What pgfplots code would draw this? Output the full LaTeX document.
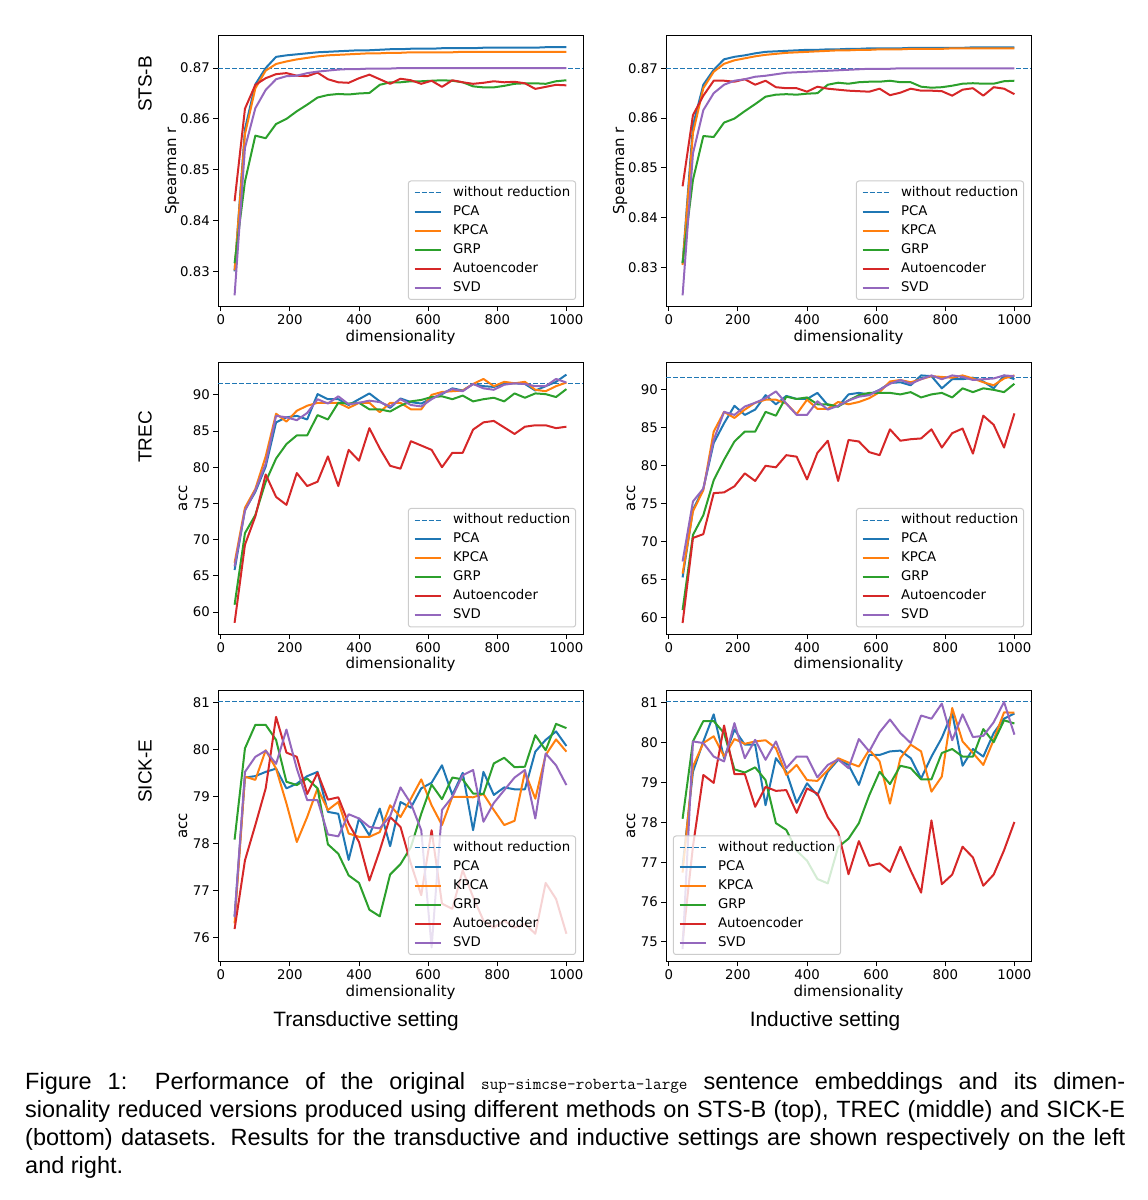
\documentclass[border=0pt]{standalone}
\usepackage{pgfplots}
\pgfplotsset{compat=1.18}
\usepackage{pgfplotstable}
\usepackage{fontspec}
\setmainfont{DejaVu Sans}
\newfontfamily\capfont{Liberation Sans}
\definecolor{c0}{HTML}{1F77B4}
\definecolor{c1}{HTML}{FF7F0E}
\definecolor{c2}{HTML}{2CA02C}
\definecolor{c3}{HTML}{D62728}
\definecolor{c4}{HTML}{9467BD}

\pgfplotstableread{
x pca kpca grp ae svd
40 0.8300 0.8302 0.8316 0.8438 0.8253
70 0.8580 0.8570 0.8477 0.8620 0.8543
100 0.8668 0.8660 0.8567 0.8667 0.8621
130 0.8700 0.8695 0.8562 0.8680 0.8657
160 0.8722 0.8708 0.8590 0.8688 0.8678
190 0.8725 0.8713 0.8600 0.8690 0.8684
220 0.8727 0.8717 0.8615 0.8685 0.8685
250 0.8729 0.8720 0.8628 0.8684 0.8690
280 0.8731 0.8723 0.8642 0.8691 0.8693
310 0.8732 0.8725 0.8647 0.8678 0.8695
340 0.8733 0.8726 0.8649 0.8672 0.8697
370 0.8734 0.8727 0.8648 0.8671 0.8698
400 0.8735 0.8728 0.8650 0.8680 0.8698
430 0.8735 0.8729 0.8651 0.8687 0.8699
460 0.8736 0.8729 0.8667 0.8678 0.8699
490 0.8737 0.8730 0.8672 0.8669 0.8699
520 0.8737 0.8730 0.8672 0.8679 0.8700
550 0.8738 0.8731 0.8674 0.8676 0.8700
580 0.8738 0.8731 0.8674 0.8669 0.8700
610 0.8738 0.8731 0.8675 0.8675 0.8700
640 0.8739 0.8731 0.8676 0.8663 0.8700
670 0.8739 0.8731 0.8675 0.8676 0.8700
700 0.8739 0.8732 0.8672 0.8672 0.8700
730 0.8739 0.8732 0.8664 0.8669 0.8700
760 0.8740 0.8732 0.8662 0.8671 0.8700
790 0.8740 0.8732 0.8662 0.8674 0.8700
820 0.8740 0.8732 0.8665 0.8672 0.8700
850 0.8740 0.8732 0.8669 0.8673 0.8700
880 0.8740 0.8732 0.8670 0.8670 0.8700
910 0.8740 0.8732 0.8670 0.8659 0.8700
940 0.8741 0.8732 0.8669 0.8663 0.8700
970 0.8741 0.8732 0.8674 0.8667 0.8700
1000 0.8741 0.8732 0.8676 0.8666 0.8700
}\tl

\pgfplotstableread{
x pca kpca grp ae svd
40 0.8308 0.8305 0.8309 0.8463 0.8244
70 0.8585 0.8570 0.8476 0.8606 0.8529
100 0.8667 0.8660 0.8564 0.8645 0.8616
130 0.8697 0.8693 0.8562 0.8675 0.8650
160 0.8718 0.8709 0.8591 0.8675 0.8667
190 0.8723 0.8716 0.8599 0.8673 0.8675
220 0.8726 0.8720 0.8614 0.8678 0.8678
250 0.8730 0.8724 0.8628 0.8667 0.8683
280 0.8733 0.8727 0.8643 0.8675 0.8685
310 0.8734 0.8729 0.8647 0.8662 0.8688
340 0.8735 0.8731 0.8648 0.8660 0.8691
370 0.8736 0.8732 0.8647 0.8660 0.8692
400 0.8737 0.8733 0.8649 0.8653 0.8693
430 0.8737 0.8734 0.8650 0.8663 0.8694
460 0.8738 0.8735 0.8667 0.8659 0.8695
490 0.8738 0.8736 0.8671 0.8657 0.8696
520 0.8739 0.8736 0.8669 0.8655 0.8697
550 0.8739 0.8737 0.8672 0.8654 0.8698
580 0.8740 0.8737 0.8673 0.8653 0.8699
610 0.8740 0.8738 0.8673 0.8659 0.8699
640 0.8740 0.8738 0.8675 0.8646 0.8699
670 0.8740 0.8738 0.8672 0.8651 0.8700
700 0.8741 0.8739 0.8672 0.8659 0.8700
730 0.8741 0.8739 0.8663 0.8655 0.8700
760 0.8741 0.8739 0.8661 0.8655 0.8700
790 0.8741 0.8739 0.8662 0.8654 0.8700
820 0.8741 0.8740 0.8665 0.8645 0.8700
850 0.8741 0.8740 0.8669 0.8657 0.8700
880 0.8742 0.8740 0.8670 0.8660 0.8700
910 0.8742 0.8740 0.8669 0.8645 0.8700
940 0.8742 0.8740 0.8669 0.8662 0.8700
970 0.8742 0.8740 0.8674 0.8659 0.8700
1000 0.8742 0.8740 0.8675 0.8648 0.8700
}\tr

\pgfplotstableread{
x pca kpca grp ae svd
40 65.8 66.8 61.0 58.5 66.3
70 74.1 74.4 70.9 69.3 74.0
100 76.6 77.0 73.4 73.2 76.8
130 80.1 81.5 78.0 79.0 80.5
160 86.2 87.4 81.2 75.9 87.1
190 86.9 86.3 83.2 74.8 86.9
220 87.1 87.8 84.4 79.2 86.5
250 86.6 88.5 84.4 77.4 87.5
280 90.1 88.9 87.2 78.0 89.4
310 89.4 88.9 86.6 81.5 88.8
340 89.4 88.9 88.9 77.4 89.8
370 88.6 88.2 88.8 82.4 88.7
400 89.4 88.9 88.9 80.9 88.9
430 90.2 88.9 88.0 85.4 89.2
460 89.1 87.6 88.0 82.6 89.0
490 88.2 88.9 87.7 80.2 88.4
520 89.5 88.9 88.5 79.8 89.4
550 89.0 88.0 89.1 83.6 88.6
580 88.8 88.0 89.3 83.0 88.4
610 89.5 90.0 89.7 82.4 89.4
640 90.1 90.4 89.8 80.0 90.2
670 90.9 90.5 89.4 82.0 90.8
700 90.6 90.6 89.9 82.0 90.5
730 91.5 91.5 89.1 85.2 91.5
760 91.2 92.2 89.4 86.2 90.9
790 91.1 91.2 89.6 86.4 90.7
820 91.5 91.8 89.1 85.5 91.4
850 91.6 91.6 90.2 84.6 91.6
880 91.5 91.8 89.6 85.6 91.5
910 90.6 90.7 90.2 85.8 91.2
940 91.2 90.5 90.1 85.8 91.2
970 91.8 91.2 89.7 85.4 92.2
1000 92.8 91.7 90.8 85.6 91.7
}\ml

\pgfplotstableread{
x pca kpca grp ae svd
40 65.3 65.8 61.0 59.3 67.4
70 74.2 74.0 70.9 70.5 75.3
100 77.0 76.8 73.5 71.0 77.0
130 83.0 84.5 78.1 76.4 83.4
160 85.6 87.1 80.8 76.5 87.1
190 87.9 86.3 83.2 77.3 86.7
220 86.7 87.4 84.5 79.0 87.8
250 87.4 88.3 84.5 78.0 88.3
280 89.3 88.7 87.1 80.0 88.9
310 88.1 88.7 86.6 79.8 89.8
340 89.2 88.2 89.1 81.4 88.2
370 88.8 86.8 88.8 81.2 86.7
400 88.8 88.7 89.0 78.2 86.7
430 89.6 87.5 88.1 81.7 88.5
460 88.0 87.5 88.1 83.3 87.4
490 87.8 88.4 87.8 78.0 87.9
520 89.4 88.1 88.6 83.4 88.6
550 89.6 88.4 89.3 83.2 89.1
580 89.4 88.9 89.6 81.8 89.3
610 90.0 89.7 89.6 81.4 90.0
640 90.9 91.1 89.6 84.8 90.8
670 91.0 91.3 89.4 83.3 91.3
700 90.6 91.0 89.7 83.5 90.8
730 91.9 91.4 89.0 83.6 91.4
760 91.8 91.8 89.4 84.8 91.9
790 90.2 91.7 89.6 82.4 91.4
820 91.4 91.6 89.0 84.3 91.9
850 91.4 91.9 90.2 84.9 91.7
880 91.6 91.5 89.7 81.6 91.3
910 91.1 91.0 90.2 86.6 91.4
940 90.2 90.6 90.0 85.4 91.5
970 91.9 91.5 89.7 82.4 91.9
1000 91.4 91.9 90.8 86.9 91.8
}\mr

\pgfplotstableread{
x pca kpca grp ae svd
40 76.45 76.30 78.08 76.18 76.43
70 79.40 79.42 80.02 77.64 79.52
100 79.43 79.35 80.52 78.39 79.84
130 79.52 79.98 80.52 79.17 79.97
160 79.59 79.59 80.20 80.69 79.69
190 79.17 78.85 79.31 79.93 80.42
220 79.27 78.03 79.24 79.84 79.59
250 79.43 78.56 79.38 79.05 78.92
280 79.52 79.17 79.17 79.50 78.92
310 78.67 78.71 77.98 78.93 78.19
340 78.63 78.88 77.78 78.98 78.15
370 77.65 78.21 77.32 78.42 78.62
400 78.53 78.14 77.16 78.03 78.53
430 78.17 78.14 76.59 77.21 78.35
460 78.74 78.24 76.45 77.85 78.32
490 77.94 78.81 77.34 78.56 78.58
520 78.88 78.56 77.56 78.35 79.19
550 78.76 78.95 77.92 77.57 78.85
580 79.17 79.36 78.63 76.90 78.28
610 79.29 78.81 79.25 78.28 75.79
640 79.66 78.39 78.94 76.72 78.71
670 79.03 78.99 79.40 76.61 78.99
700 79.50 78.99 79.36 77.43 79.45
730 78.28 78.98 79.06 76.86 79.56
760 79.52 79.05 79.05 76.36 78.46
790 79.03 78.71 79.70 76.21 78.86
820 79.19 78.39 79.82 76.36 79.13
850 79.15 78.48 79.62 76.21 79.40
880 79.15 79.52 79.63 76.29 79.56
910 79.95 78.95 80.30 76.08 78.53
940 80.20 79.88 79.98 77.16 79.91
970 80.38 80.21 80.54 76.82 79.66
1000 80.07 79.95 80.45 76.08 79.24
}\bl

\pgfplotstableread{
x pca kpca grp ae svd
40 76.90 76.74 78.09 75.02 74.82
70 79.27 79.40 80.03 77.40 80.03
100 80.03 79.99 80.54 79.19 79.99
130 80.71 80.16 80.54 78.99 79.65
160 79.61 79.65 80.24 80.43 79.53
190 80.33 80.09 79.33 79.21 80.49
220 79.95 79.97 79.25 79.21 79.61
250 79.95 80.03 79.38 78.39 80.07
280 78.43 80.06 79.06 78.89 79.57
310 79.61 79.86 77.98 78.79 80.03
340 79.27 79.19 77.81 78.81 79.36
370 78.49 79.44 77.29 78.24 79.65
400 78.98 79.06 77.04 78.85 79.65
430 78.68 79.04 76.58 78.72 79.13
460 79.27 79.31 76.47 78.13 79.44
490 79.57 79.61 77.38 77.76 79.58
520 79.44 79.50 77.59 76.70 79.36
550 78.94 79.40 77.98 77.53 80.09
580 79.69 79.82 78.68 76.91 79.78
610 79.69 79.53 79.27 76.97 80.26
640 79.78 78.47 78.96 76.76 80.58
670 79.80 79.61 79.42 77.39 80.24
700 79.61 79.95 79.36 76.79 79.99
730 79.10 79.78 79.08 76.24 80.68
760 79.65 78.77 79.08 78.05 80.60
790 80.12 79.15 79.74 76.45 80.98
820 80.75 80.87 79.84 76.69 80.06
850 79.42 80.03 79.65 77.39 80.71
880 79.84 79.74 79.65 77.12 80.14
910 79.65 79.44 80.34 76.41 80.17
940 80.24 80.07 80.01 76.69 80.51
970 80.60 80.76 80.56 77.30 81.02
1000 80.73 80.75 80.48 78.01 80.20
}\br

\pgfplotsset{
  panel/.style={
    scale only axis, width=365pt, height=271.5pt,
    xmin=-8, xmax=1048,
    xtick={0,200,400,600,800,1000},
    xticklabels={0,200,400,600,800,1000},
    tick align=outside, tick pos=left,
    major tick length=4.7pt,
    every tick/.append style={black, line width=1pt},
    axis line style={black, line width=1pt},
    tick label style={font=\fontsize{13.3}{16}\selectfont},
    /pgf/number format/assume math mode=true,
    label style={font=\fontsize{15}{18}\selectfont},
    xlabel={dimensionality},
    xlabel style={at={(axis description cs:0.5,-0.113)}, anchor=center},
    every axis plot/.append style={line width=2pt, line join=round},
    legend entries={without reduction,PCA,KPCA,GRP,Autoencoder,SVD},
    legend cell align=left,
    legend image code/.code={\draw[#1] (0pt,0pt) -- (26.7pt,0pt);},
    legend style={font=\fontsize{13.3}{16}\selectfont,
      draw=black!20, line width=1pt, fill=white, fill opacity=0.8, text opacity=1, draw opacity=1,
      rounded corners=2.5pt, inner xsep=5.3pt, inner ysep=5.5pt,
      row sep=6.5pt, column sep=10.6pt,
      nodes={inner xsep=0pt, inner ysep=0pt, text height=9.7pt, text depth=2.8pt}},
  },
  brlegend/.style={legend style={at={(0.981,0.024)}, anchor=south east}},
  bllegend/.style={legend style={at={(0.019,0.024)}, anchor=south west}},
  stsb/.style={ytick={0.83,0.84,0.85,0.86,0.87}, yticklabels={0.83,0.84,0.85,0.86,0.87},
    ylabel={Spearman r}, ylabel style={at={(axis description cs:-0.126,0.5)}, anchor=center}},
  acc/.style={ylabel={acc}, ylabel style={at={(axis description cs:-0.096,0.5)}, anchor=center}},
  refline/.style={c0, line width=1.1pt, dash pattern=on 4.9pt off 2.1pt},
}

\newcommand{\series}[1]{%
  \addplot[c0] table[x=x,y=pca]{#1};
  \addplot[c1] table[x=x,y=kpca]{#1};
  \addplot[c2] table[x=x,y=grp]{#1};
  \addplot[c3] table[x=x,y=ae]{#1};
  \addplot[c4] table[x=x,y=svd]{#1};
}

\begin{document}
\begin{tikzpicture}
\path[use as bounding box] (0pt,0pt) rectangle (1148pt,-1200pt);

% STS-B
\begin{axis}[panel, stsb, brlegend, at={(218pt,-35pt)}, anchor=north west, ymin=0.8231, ymax=0.8765]
\addplot[refline] coordinates {(-8,0.87) (1048,0.87)};
\series{\tl}
\end{axis}
\begin{axis}[panel, stsb, brlegend, at={(666pt,-35pt)}, anchor=north west, ymin=0.82217, ymax=0.87668]
\addplot[refline] coordinates {(-8,0.87) (1048,0.87)};
\series{\tr}
\end{axis}

% TREC
\begin{axis}[panel, acc, brlegend, at={(218pt,-362.5pt)}, anchor=north west, ymin=56.96, ymax=94.47,
  ytick={60,65,70,75,80,85,90}, yticklabels={60,65,70,75,80,85,90}]
\addplot[refline] coordinates {(-8,91.62) (1048,91.62)};
\series{\ml}
\end{axis}
\begin{axis}[panel, acc, brlegend, at={(666pt,-362.5pt)}, anchor=north west, ymin=57.85, ymax=93.6,
  ytick={60,65,70,75,80,85,90}, yticklabels={60,65,70,75,80,85,90}]
\addplot[refline] coordinates {(-8,91.62) (1048,91.62)};
\series{\mr}
\end{axis}

% SICK-E
\begin{axis}[panel, acc, brlegend, at={(218pt,-690pt)}, anchor=north west, ymin=75.49, ymax=81.26,
  ytick={76,77,78,79,80,81}, yticklabels={76,77,78,79,80,81}]
\addplot[refline] coordinates {(-8,81.02) (1048,81.02)};
\series{\bl}
\end{axis}
\begin{axis}[panel, acc, bllegend, at={(666pt,-690pt)}, anchor=north west, ymin=74.51, ymax=81.32,
  ytick={75,76,77,78,79,80,81}, yticklabels={75,76,77,78,79,80,81}]
\addplot[refline] coordinates {(-8,81.03) (1048,81.03)};
\series{\br}
\end{axis}

% row labels
\node[rotate=90, font=\capfont\fontsize{19}{22}\selectfont] at (145pt,-84pt) {STS-B};
\node[rotate=90, font=\capfont\fontsize{19}{22}\selectfont] at (145pt,-437pt) {TREC};
\node[rotate=90, font=\capfont\fontsize{19}{22}\selectfont] at (145pt,-771pt) {SICK-E};

% column titles
\node[font=\capfont\fontsize{20.8}{24}\selectfont] at (366pt,-1021pt) {Transductive setting};
\node[font=\capfont\fontsize{20.8}{24}\selectfont] at (825pt,-1021pt) {Inductive setting};

% caption
\begin{scope}[every node/.style={anchor=base west, inner sep=0pt, font=\capfont\fontsize{23.5}{27.7}\selectfont}]
\node at (25pt,-1089pt) {\makebox[1100pt][s]{Figure 1: Performance of the original {\ttfamily\fontsize{16.7}{20}\selectfont sup-simcse-roberta-large} sentence embeddings and its dimen-}};
\node at (25pt,-1117pt) {\makebox[1100pt][s]{sionality reduced versions produced using different methods on STS-B (top), TREC (middle) and SICK-E}};
\node at (25pt,-1145pt) {\makebox[1100pt][s]{(bottom) datasets. Results for the transductive and inductive settings are shown respectively on the left}};
\node at (25pt,-1173pt) {and right.};
\end{scope}
\end{tikzpicture}
\end{document}
